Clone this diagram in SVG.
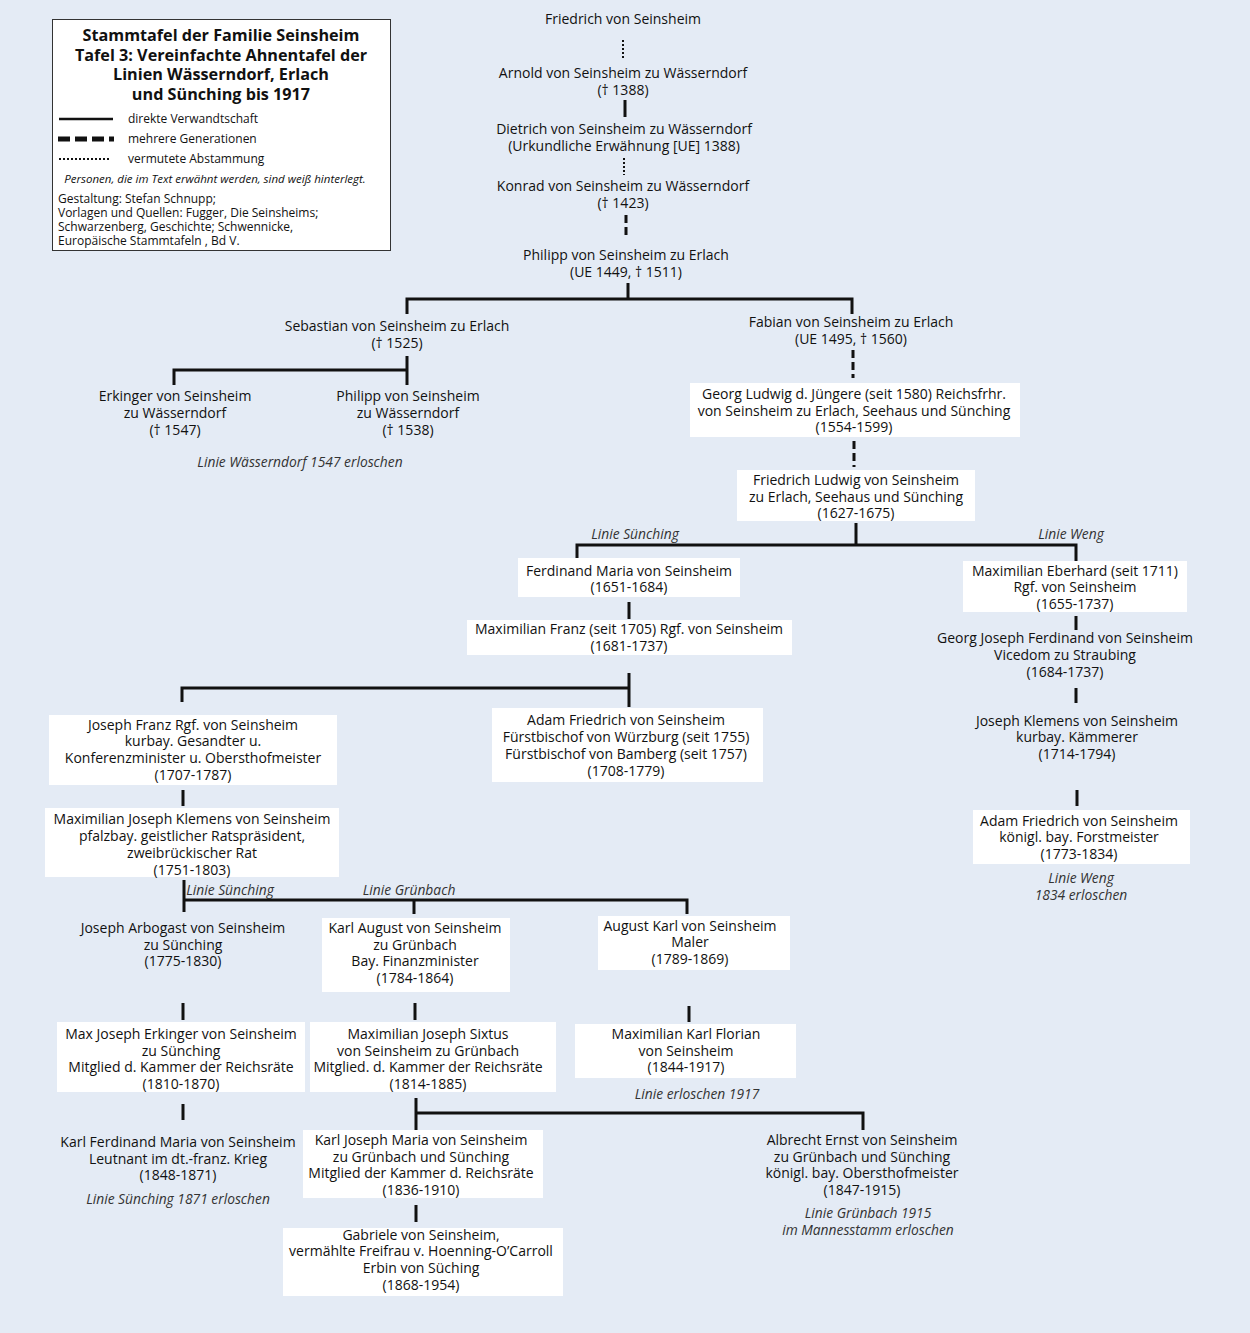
<svg xmlns="http://www.w3.org/2000/svg" width="1250" height="1333" viewBox="0 0 1250 1333">
<style>
text{font-family:"Open Sans","Noto Sans","DejaVu Sans",sans-serif;fill:#111}
.t,.c{font-size:14px;font-weight:500;text-anchor:middle}
.i{font-size:13.8px;font-style:italic;text-anchor:middle;fill:#333}
.h{font-size:16.2px;font-weight:bold;text-anchor:middle}
.l,.s{font-size:12px;font-weight:500}
.box{fill:#fff}
.solid{stroke:#111;stroke-width:3;fill:none}
.dash{stroke:#111;stroke-width:3;fill:none;stroke-dasharray:8 4}
.dot{stroke:#111;stroke-width:2;fill:none;stroke-dasharray:2 2}
</style>
<rect width="1250" height="1333" fill="#e4ebf5"/>
<g id="legend">
<rect x="52.5" y="19.5" width="338" height="231" fill="#fff" stroke="#333" stroke-width="1"/>
<text class="h" x="221" y="41">Stammtafel der Familie Seinsheim</text>
<text class="h" x="221" y="61">Tafel 3: Vereinfachte Ahnentafel der</text>
<text class="h" x="221" y="80">Linien Wässerndorf, Erlach</text>
<text class="h" x="221" y="100">und Sünching bis 1917</text>
<line x1="59" y1="119" x2="113" y2="119" stroke="#111" stroke-width="2.5"/>
<text class="l" x="128" y="123">direkte Verwandtschaft</text>
<line x1="58" y1="139" x2="114" y2="139" stroke="#111" stroke-width="5" stroke-dasharray="12 5"/>
<text class="l" x="128" y="143">mehrere Generationen</text>
<line x1="59" y1="159" x2="111" y2="159" stroke="#111" stroke-width="2" stroke-dasharray="2 2"/>
<text class="l" x="128" y="163">vermutete Abstammung</text>
<text x="215" y="183" font-size="11.5" font-style="italic" text-anchor="middle" fill="#333">Personen, die im Text erwähnt werden, sind weiß hinterlegt.</text>
<text class="s" x="58" y="203">Gestaltung: Stefan Schnupp;</text>
<text class="s" x="58" y="217">Vorlagen und Quellen: Fugger, Die Seinsheims;</text>
<text class="s" x="58" y="231">Schwarzenberg, Geschichte;  Schwennicke,</text>
<text class="s" x="58" y="245">Europäische Stammtafeln , Bd V.</text>
</g>
<g id="connectors">
<line class="dot" x1="623" y1="40" x2="623" y2="58"/>
<line class="solid" x1="625" y1="100" x2="625" y2="117"/>
<line class="dot" x1="624" y1="158" x2="624" y2="175"/>
<line class="dash" x1="626" y1="215" x2="626" y2="239"/>
<line class="solid" x1="628" y1="283" x2="628" y2="299"/>
<polyline class="solid" points="407,314 407,299 852,299 852,314"/>
<line class="solid" x1="407" y1="356" x2="407" y2="385"/>
<polyline class="solid" points="174,385 174,370 407,370"/>
<line class="dash" x1="853" y1="350" x2="853" y2="378"/>
<line class="dash" x1="854" y1="441" x2="854" y2="467"/>
<line class="solid" x1="856" y1="523" x2="856" y2="545"/>
<polyline class="solid" points="577,558 577,545 1076,545 1076,561"/>
<line class="solid" x1="629" y1="602" x2="629" y2="619"/>
<line class="solid" x1="629" y1="673" x2="629" y2="707"/>
<polyline class="solid" points="182,702 182,688 629,688"/>
<line class="solid" x1="1076" y1="616" x2="1076" y2="630"/>
<line class="solid" x1="1076" y1="688" x2="1076" y2="703"/>
<line class="solid" x1="1077" y1="790" x2="1077" y2="806"/>
<line class="solid" x1="183" y1="790" x2="183" y2="806"/>
<line class="solid" x1="184" y1="880" x2="184" y2="912"/>
<polyline class="solid" points="184,900 687,900 687,914"/>
<line class="solid" x1="414" y1="900" x2="414" y2="914"/>
<line class="solid" x1="183" y1="1003" x2="183" y2="1020"/>
<line class="solid" x1="415" y1="1003" x2="415" y2="1020"/>
<line class="solid" x1="689" y1="1006" x2="689" y2="1022"/>
<line class="solid" x1="183" y1="1104" x2="183" y2="1120"/>
<line class="solid" x1="416" y1="1098" x2="416" y2="1130"/>
<polyline class="solid" points="416,1113 863,1113 863,1130"/>
<line class="solid" x1="416" y1="1205" x2="416" y2="1222"/>
</g>
<g id="n-friedrich"><text class="t" x="623" y="24">Friedrich von Seinsheim</text></g>
<g id="n-arnold"><text class="t" x="623" y="78">Arnold von Seinsheim zu Wässerndorf</text><text class="t" x="623" y="95">(† 1388)</text></g>
<g id="n-dietrich"><text class="t" x="624" y="134">Dietrich von Seinsheim zu Wässerndorf</text><text class="t" x="624" y="151">(Urkundliche Erwähnung [UE] 1388)</text></g>
<g id="n-konrad"><text class="t" x="623" y="191">Konrad von Seinsheim zu Wässerndorf</text><text class="t" x="623" y="208">(† 1423)</text></g>
<g id="n-philipp"><text class="t" x="626" y="260">Philipp von Seinsheim zu Erlach</text><text class="t" x="626" y="277">(UE 1449, † 1511)</text></g>
<g id="n-sebastian"><text class="t" x="397" y="331">Sebastian von Seinsheim zu Erlach</text><text class="t" x="397" y="348">(† 1525)</text></g>
<g id="n-fabian"><text class="t" x="851" y="327">Fabian von Seinsheim zu Erlach</text><text class="t" x="851" y="344">(UE 1495, † 1560)</text></g>
<g id="n-erkinger"><text class="t" x="175" y="401">Erkinger von Seinsheim</text><text class="t" x="175" y="418">zu Wässerndorf</text><text class="t" x="175" y="435">(† 1547)</text></g>
<g id="n-philipp2"><text class="t" x="408" y="401">Philipp von Seinsheim</text><text class="t" x="408" y="418">zu Wässerndorf</text><text class="t" x="408" y="435">(† 1538)</text></g>
<text class="i" x="300" y="467">Linie Wässerndorf 1547 erloschen</text>
<g id="n-georgludwig"><rect class="box" x="690" y="383" width="330" height="54"/><text class="t" x="854" y="399">Georg Ludwig d. Jüngere (seit 1580) Reichsfrhr.</text><text class="t" x="854" y="416">von Seinsheim zu Erlach, Seehaus und Sünching</text><text class="t" x="854" y="432">(1554-1599)</text></g>
<g id="n-friedrichludwig"><rect class="box" x="737" y="470" width="238" height="51"/><text class="t" x="856" y="485">Friedrich Ludwig von Seinsheim</text><text class="t" x="856" y="502">zu Erlach, Seehaus und Sünching</text><text class="t" x="856" y="518">(1627-1675)</text></g>
<text class="i" x="635" y="539">Linie Sünching</text>
<text class="i" x="1071" y="539">Linie Weng</text>
<g id="n-ferdinand"><rect class="box" x="518" y="558" width="222" height="39"/><text class="c" x="629" y="576">Ferdinand Maria von Seinsheim</text><text class="c" x="629" y="592">(1651-1684)</text></g>
<g id="n-maxfranz"><rect class="box" x="467" y="620" width="325" height="35"/><text class="c" x="629" y="634">Maximilian Franz (seit 1705) Rgf. von Seinsheim</text><text class="c" x="629" y="651">(1681-1737)</text></g>
<g id="n-maxeberhard"><rect class="box" x="963" y="561" width="224" height="51"/><text class="c" x="1075" y="576">Maximilian Eberhard (seit 1711)</text><text class="c" x="1075" y="592">Rgf. von Seinsheim</text><text class="c" x="1075" y="609">(1655-1737)</text></g>
<g id="n-georgjoseph"><text class="c" x="1065" y="643">Georg Joseph Ferdinand von Seinsheim</text><text class="c" x="1065" y="660">Vicedom zu Straubing</text><text class="c" x="1065" y="677">(1684-1737)</text></g>
<g id="n-josephklemens"><text class="t" x="1077" y="726">Joseph Klemens von Seinsheim</text><text class="t" x="1077" y="742">kurbay. Kämmerer</text><text class="t" x="1077" y="759">(1714-1794)</text></g>
<g id="n-adamweng"><rect class="box" x="973" y="810" width="217" height="54"/><text class="t" x="1079" y="826">Adam Friedrich  von Seinsheim</text><text class="t" x="1079" y="842">königl. bay. Forstmeister</text><text class="t" x="1079" y="859">(1773-1834)</text></g>
<text class="i" x="1081" y="883">Linie Weng</text>
<text class="i" x="1081" y="900">1834 erloschen</text>
<g id="n-josephfranz"><rect class="box" x="49" y="715" width="288" height="70"/><text class="c" x="193" y="730">Joseph Franz Rgf. von Seinsheim</text><text class="c" x="193" y="746">kurbay. Gesandter u.</text><text class="c" x="193" y="763">Konferenzminister u. Obersthofmeister</text><text class="c" x="193" y="780">(1707-1787)</text></g>
<g id="n-adamwuerzburg"><rect class="box" x="492" y="708" width="271" height="74"/><text class="c" x="626" y="725">Adam Friedrich von Seinsheim</text><text class="c" x="626" y="742">Fürstbischof von Würzburg (seit 1755)</text><text class="c" x="626" y="759">Fürstbischof von Bamberg (seit 1757)</text><text class="c" x="626" y="776">(1708-1779)</text></g>
<g id="n-maxjosephklemens"><rect class="box" x="45" y="808" width="294" height="69"/><text class="c" x="192" y="824">Maximilian Joseph Klemens von Seinsheim</text><text class="c" x="192" y="841">pfalzbay. geistlicher Ratspräsident,</text><text class="c" x="192" y="858">zweibrückischer Rat</text><text class="c" x="192" y="875">(1751-1803)</text></g>
<text class="i" x="230" y="895">Linie Sünching</text>
<text class="i" x="409" y="895">Linie Grünbach</text>
<g id="n-arbogast"><text class="c" x="183" y="933">Joseph Arbogast von Seinsheim</text><text class="c" x="183" y="950">zu Sünching</text><text class="c" x="183" y="966">(1775-1830)</text></g>
<g id="n-karlaugust"><rect class="box" x="322" y="918" width="188" height="74"/><text class="c" x="415" y="933">Karl August von Seinsheim</text><text class="c" x="415" y="950">zu Grünbach</text><text class="c" x="415" y="966">Bay. Finanzminister</text><text class="c" x="415" y="983">(1784-1864)</text></g>
<g id="n-augustkarl"><rect class="box" x="598" y="916" width="192" height="54"/><text class="c" x="690" y="931">August Karl von Seinsheim</text><text class="c" x="690" y="947">Maler</text><text class="c" x="690" y="964">(1789-1869)</text></g>
<g id="n-maxerkinger"><rect class="box" x="57" y="1022" width="248" height="70"/><text class="c" x="181" y="1039">Max Joseph Erkinger von Seinsheim</text><text class="c" x="181" y="1056">zu Sünching</text><text class="c" x="181" y="1072">Mitglied d. Kammer der Reichsräte</text><text class="c" x="181" y="1089">(1810-1870)</text></g>
<g id="n-sixtus"><rect class="box" x="310" y="1022" width="246" height="70"/><text class="c" x="428" y="1039">Maximilian Joseph Sixtus</text><text class="c" x="428" y="1056">von Seinsheim zu Grünbach</text><text class="c" x="428" y="1072">Mitglied. d. Kammer der Reichsräte</text><text class="c" x="428" y="1089">(1814-1885)</text></g>
<g id="n-florian"><rect class="box" x="575" y="1024" width="221" height="54"/><text class="c" x="686" y="1039">Maximilian Karl Florian</text><text class="c" x="686" y="1056">von Seinsheim</text><text class="c" x="686" y="1072">(1844-1917)</text></g>
<text class="i" x="697" y="1099">Linie erloschen 1917</text>
<g id="n-karlferdinand"><text class="t" x="178" y="1147">Karl Ferdinand Maria von Seinsheim</text><text class="t" x="178" y="1164">Leutnant im dt.-franz. Krieg</text><text class="t" x="178" y="1180">(1848-1871)</text></g>
<text class="i" x="178" y="1204">Linie Sünching 1871 erloschen</text>
<g id="n-karljoseph"><rect class="box" x="303" y="1130" width="240" height="68"/><text class="t" x="421" y="1145">Karl Joseph Maria von Seinsheim</text><text class="t" x="421" y="1162">zu Grünbach und Sünching</text><text class="t" x="421" y="1178">Mitglied der Kammer d. Reichsräte</text><text class="t" x="421" y="1195">(1836-1910)</text></g>
<g id="n-albrecht"><text class="t" x="862" y="1145">Albrecht Ernst von Seinsheim</text><text class="t" x="862" y="1162">zu Grünbach und Sünching</text><text class="t" x="862" y="1178">königl. bay. Obersthofmeister</text><text class="t" x="862" y="1195">(1847-1915)</text></g>
<text class="i" x="868" y="1218">Linie Grünbach 1915</text>
<text class="i" x="868" y="1235">im Mannesstamm erloschen</text>
<g id="n-gabriele"><rect class="box" x="283" y="1228" width="280" height="68"/><text class="t" x="421" y="1240">Gabriele von Seinsheim,</text><text class="t" x="421" y="1256">vermählte Freifrau v. Hoenning-O’Carroll</text><text class="t" x="421" y="1273">Erbin von Süching</text><text class="t" x="421" y="1290">(1868-1954)</text></g>
</svg>
